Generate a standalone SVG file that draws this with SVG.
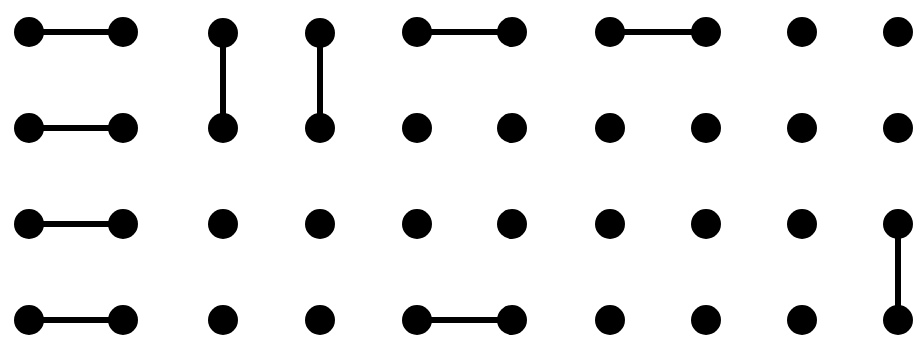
<svg xmlns="http://www.w3.org/2000/svg" width="919" height="342" viewBox="0 0 919 342">
<style>
.e{stroke:#000;stroke-width:6;fill:none}
circle{fill:#000}
</style>
<rect width="919" height="342" fill="#fff"/>
<g id="connectors">
<line class="e" x1="29" y1="32" x2="123" y2="32"/>
<line class="e" x1="29" y1="128" x2="123" y2="128"/>
<line class="e" x1="29" y1="224" x2="123" y2="224"/>
<line class="e" x1="29" y1="320" x2="123" y2="320"/>
<line class="e" x1="223" y1="32" x2="223" y2="128"/>
<line class="e" x1="320" y1="32" x2="320" y2="128"/>
<line class="e" x1="417" y1="32" x2="512" y2="32"/>
<line class="e" x1="610" y1="32" x2="706" y2="32"/>
<line class="e" x1="417" y1="320" x2="512" y2="320"/>
<line class="e" x1="898" y1="224" x2="898" y2="320"/>
</g>
<g id="n1-1"><circle cx="29" cy="32" r="15"/></g>
<g id="n1-2"><circle cx="123" cy="32" r="15"/></g>
<g id="n1-3"><circle cx="223" cy="33" r="15"/></g>
<g id="n1-4"><circle cx="320" cy="33" r="15"/></g>
<g id="n1-5"><circle cx="417" cy="32" r="15"/></g>
<g id="n1-6"><circle cx="512" cy="32" r="15"/></g>
<g id="n1-7"><circle cx="610" cy="32" r="15"/></g>
<g id="n1-8"><circle cx="706" cy="32" r="15"/></g>
<g id="n1-9"><circle cx="802" cy="32" r="15"/></g>
<g id="n1-10"><circle cx="898" cy="32" r="15"/></g>
<g id="n2-1"><circle cx="29" cy="128" r="15"/></g>
<g id="n2-2"><circle cx="123" cy="128" r="15"/></g>
<g id="n2-3"><circle cx="223" cy="128" r="15"/></g>
<g id="n2-4"><circle cx="320" cy="128" r="15"/></g>
<g id="n2-5"><circle cx="417" cy="128" r="15"/></g>
<g id="n2-6"><circle cx="512" cy="128" r="15"/></g>
<g id="n2-7"><circle cx="610" cy="128" r="15"/></g>
<g id="n2-8"><circle cx="706" cy="128" r="15"/></g>
<g id="n2-9"><circle cx="802" cy="128" r="15"/></g>
<g id="n2-10"><circle cx="898" cy="128" r="15"/></g>
<g id="n3-1"><circle cx="29" cy="224" r="15"/></g>
<g id="n3-2"><circle cx="123" cy="224" r="15"/></g>
<g id="n3-3"><circle cx="223" cy="224" r="15"/></g>
<g id="n3-4"><circle cx="320" cy="224" r="15"/></g>
<g id="n3-5"><circle cx="417" cy="224" r="15"/></g>
<g id="n3-6"><circle cx="512" cy="224" r="15"/></g>
<g id="n3-7"><circle cx="610" cy="224" r="15"/></g>
<g id="n3-8"><circle cx="706" cy="224" r="15"/></g>
<g id="n3-9"><circle cx="802" cy="224" r="15"/></g>
<g id="n3-10"><circle cx="898" cy="224" r="15"/></g>
<g id="n4-1"><circle cx="29" cy="320" r="15"/></g>
<g id="n4-2"><circle cx="123" cy="320" r="15"/></g>
<g id="n4-3"><circle cx="223" cy="320" r="15"/></g>
<g id="n4-4"><circle cx="320" cy="320" r="15"/></g>
<g id="n4-5"><circle cx="417" cy="320" r="15"/></g>
<g id="n4-6"><circle cx="512" cy="320" r="15"/></g>
<g id="n4-7"><circle cx="610" cy="320" r="15"/></g>
<g id="n4-8"><circle cx="706" cy="320" r="15"/></g>
<g id="n4-9"><circle cx="802" cy="320" r="15"/></g>
<g id="n4-10"><circle cx="898" cy="320" r="15"/></g>
</svg>
